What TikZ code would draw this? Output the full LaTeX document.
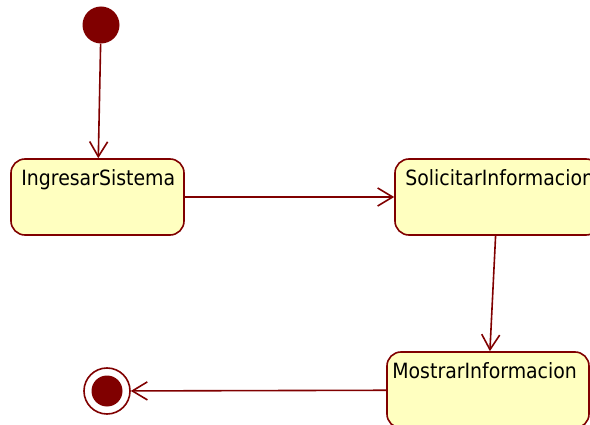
\documentclass[tikz,border=0pt]{standalone}
\usepackage{fontspec}
\setmainfont{DejaVu Sans Condensed}
\usetikzlibrary{arrows.meta}
\definecolor{umlred}{HTML}{800000}
\definecolor{umlfill}{HTML}{FFFFC0}
\tikzset{
  statebox/.style={draw=umlred, fill=umlfill, line width=1.6pt, rounded corners=14pt, inner sep=0pt},
  statetext/.style={anchor=north west, inner sep=0pt, font=\fontsize{21}{24}\selectfont, text height=15.5pt, xshift=11pt, yshift=-12pt},
  trans/.style={draw=umlred, line width=1.6pt, -{Straight Barb[length=15pt,width=18pt,line width=1.6pt]}},
}
\begin{document}
\begin{tikzpicture}[x=1pt, y=-1pt]
\useasboundingbox (0,0) rectangle (590,425);
\begin{scope}
\clip (0,0) rectangle (590,425);
\node[circle, fill=umlred, minimum size=37pt, inner sep=0pt] (init) at (101,25) {};
\node[statebox, minimum width=173pt, minimum height=76pt,
      label={[statetext]north west:IngresarSistema}] (ing) at (97.5,197) {};
\node[statebox, minimum width=205pt, minimum height=76pt,
      label={[statetext]north west:SolicitarInformacion}] (sol) at (497.5,197) {};
\node[statebox, minimum width=202pt, minimum height=76pt,
      label={[statetext, xshift=-5pt]north west:MostrarInformacion}] (mos) at (488,390) {};
\node[circle, draw=umlred, fill=white, line width=1.6pt, minimum size=46pt, inner sep=0pt] (fin) at (107,391) {};
\node[circle, fill=umlred, minimum size=31pt, inner sep=0pt] (finin) at (fin.center) {};
\draw[trans] (init) -- (ing);
\draw[trans] (ing) -- (sol);
\draw[trans] (sol) -- (mos);
\draw[trans] (mos) -- (fin);
\end{scope}
\end{tikzpicture}
\end{document}
